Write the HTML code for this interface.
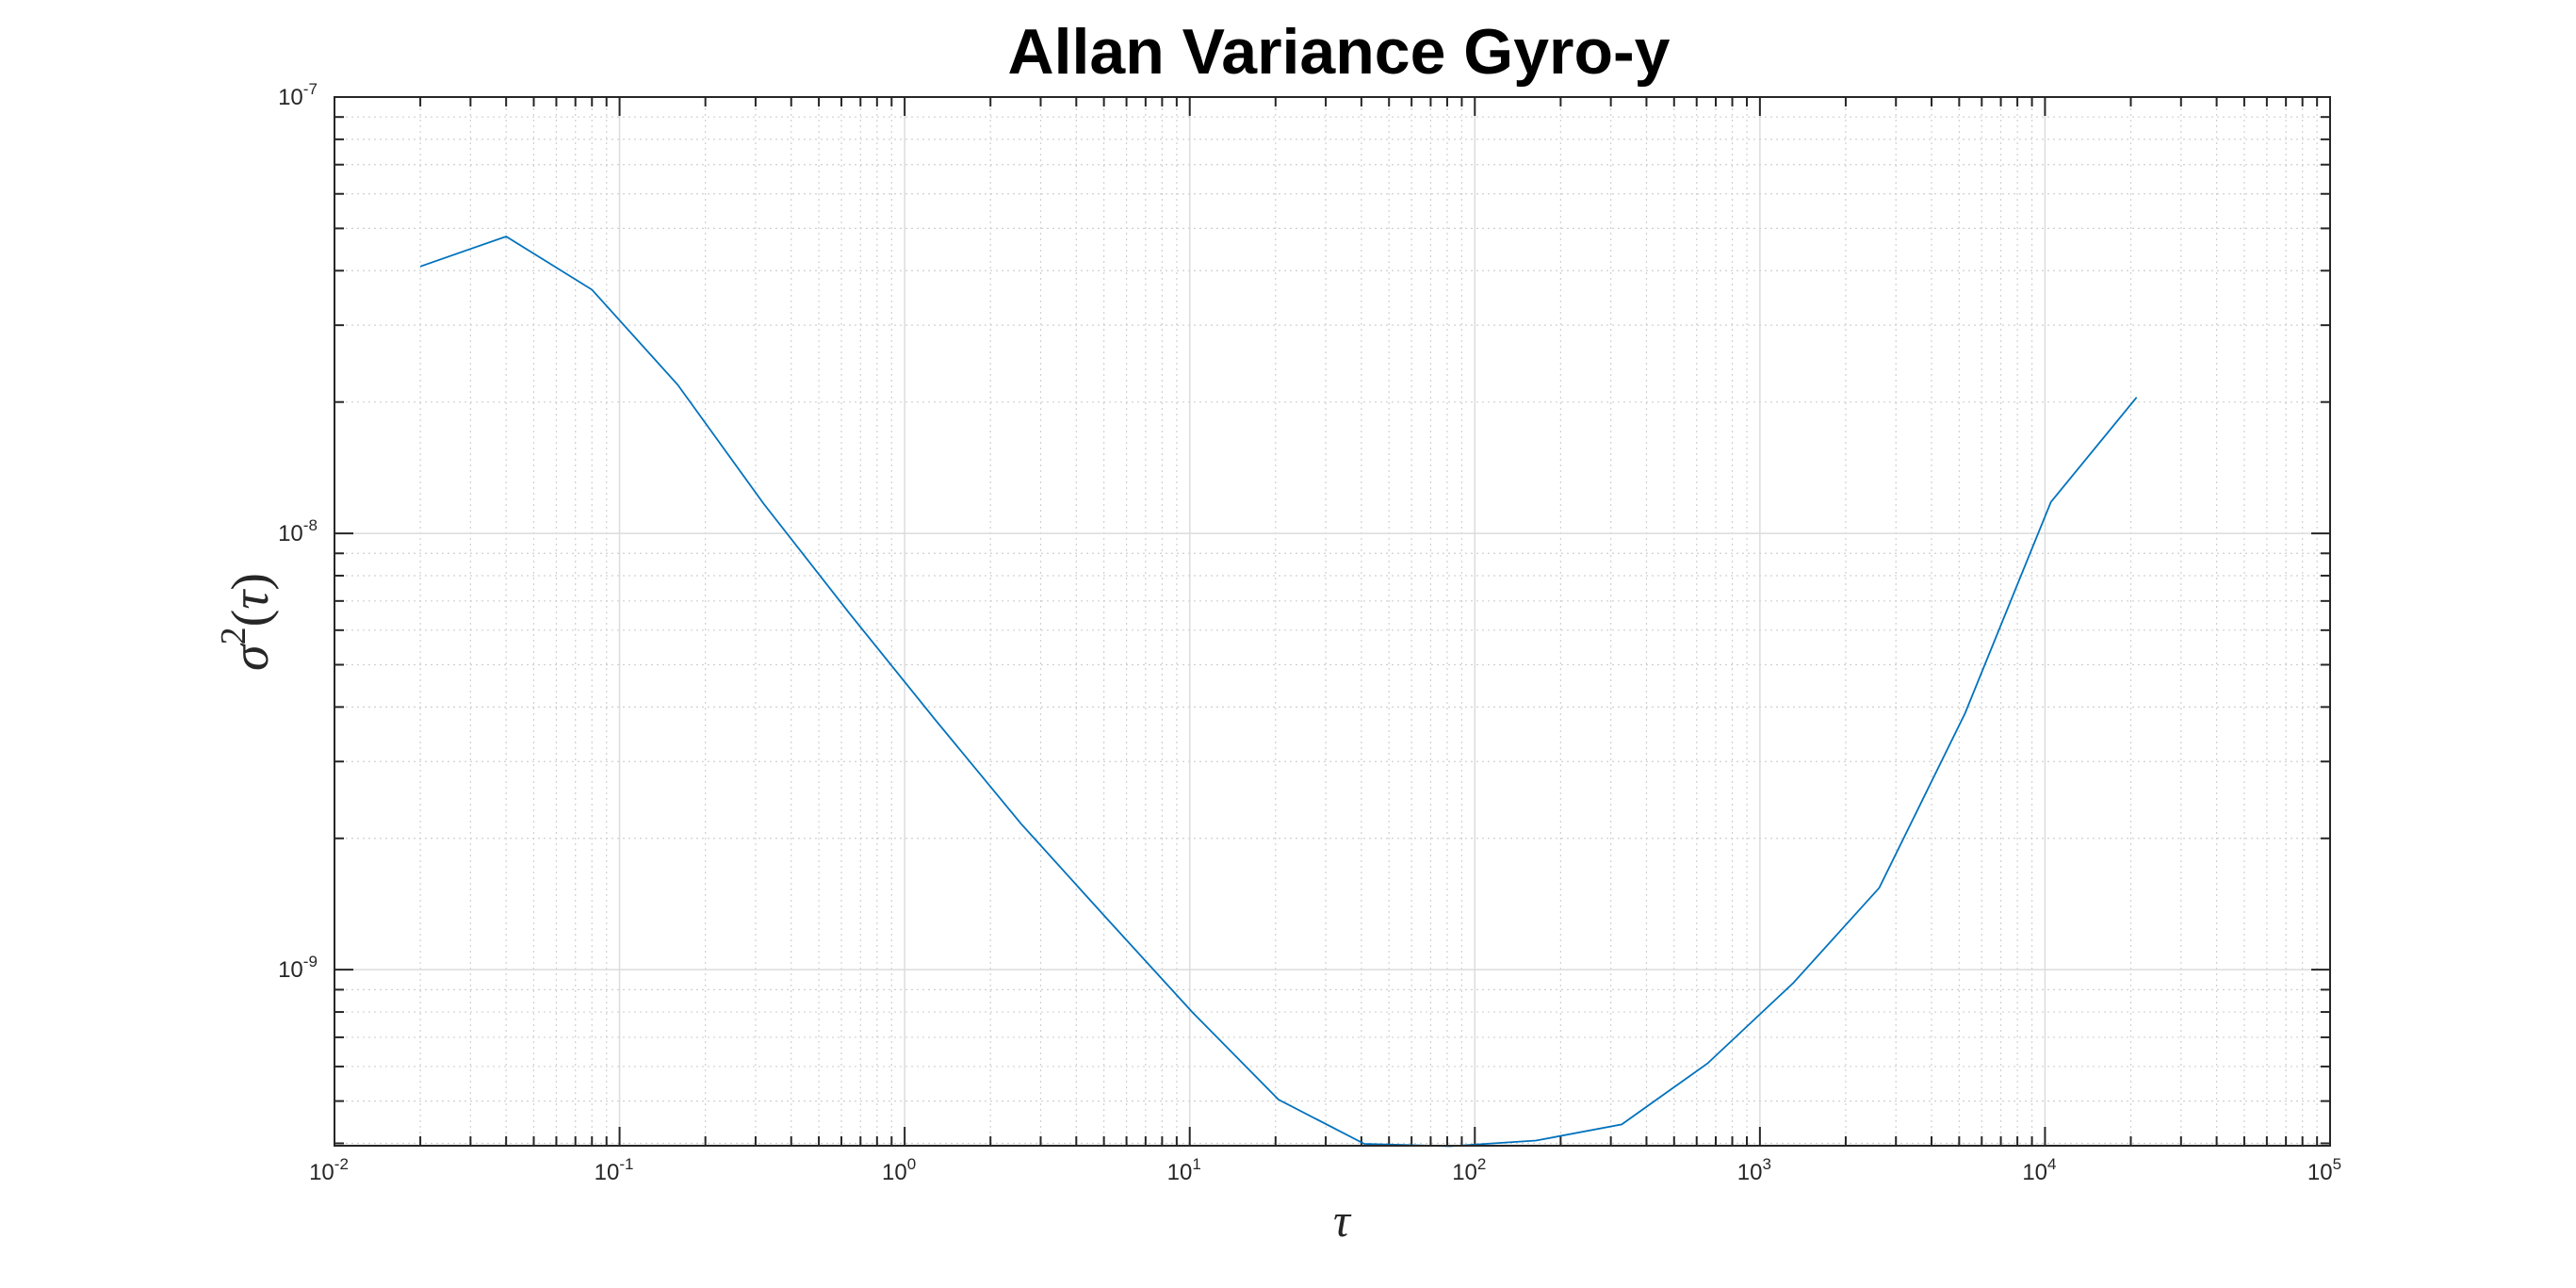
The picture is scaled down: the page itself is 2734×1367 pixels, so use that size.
<!DOCTYPE html>
<html><head><meta charset="utf-8"><style>
html,body{margin:0;padding:0;background:#fff;}
svg{display:block;font-family:"Liberation Sans",Arial,sans-serif;}
</style></head><body>
<svg id="chart" width="2734" height="1367" viewBox="0 0 2734 1367">
<rect width="2734" height="1367" fill="#fff"/>
<text x="1421" y="78" text-anchor="middle" font-size="68" font-weight="bold" fill="#000">Allan Variance Gyro-y</text>
<g id="grid"></g><g id="ticks"></g><g id="labels"></g>
<path id="series" fill="none" stroke="#0072BD" stroke-width="1.8"/>
<rect x="355" y="103" width="2118" height="1113" fill="none" stroke="#262626" stroke-width="2"/>
<text x="1424" y="1312" text-anchor="middle" font-family="'Liberation Serif',serif" font-style="italic" font-size="50" fill="#262626">τ</text>
<text transform="translate(284,660) rotate(-90)" text-anchor="middle" font-family="'Liberation Serif',serif" font-style="italic" font-size="56" fill="#262626">σ<tspan dy="-24" font-size="38" font-style="normal">2</tspan><tspan dy="24" font-style="normal">(</tspan>τ<tspan font-style="normal">)</tspan></text>
</svg>
<script>
const tau = [0.02,0.04,0.08,0.16,0.32,0.64,1.28,2.56,5.12,10.24,20.48,40.96,81.92,163.84,327.68,655.36,1310.72,2621.44,5242.88,10485.76,20971.52];
const avar = [4.09e-8,4.79e-8,3.62e-8,2.19e-8,1.17e-8,6.56e-9,3.74e-9,2.16e-9,1.31e-9,7.98e-10,5.04e-10,3.99e-10,3.94e-10,4.06e-10,4.42e-10,6.10e-10,9.33e-10,1.54e-9,3.87e-9,1.18e-8,2.05e-8];
const xExps = [-2,-1,0,1,2,3,4,5];
const yExps = [-9,-8,-7];
const X0=355,X1=2473,Y0=103,Y1=1216;
const xmin=-2,xmax=5,ymin=Math.log10(3.95e-10),ymax=-7;
const sx=v=>X0+(Math.log10(v)-xmin)/(xmax-xmin)*(X1-X0);
const sy=v=>Y1-(Math.log10(v)-ymin)/(ymax-ymin)*(Y1-Y0);
const NS="http://www.w3.org/2000/svg";
function mk(tag,attrs,parent){const e=document.createElementNS(NS,tag);for(const k in attrs)e.setAttribute(k,attrs[k]);document.getElementById(parent).appendChild(e);return e;}
for(let e=xmin;e<xmax;e++){for(let m=1;m<10;m++){const v=m*Math.pow(10,e);const x=sx(v);
 if(m===1){if(e>xmin){const g=mk('line',{x1:x,x2:x,y1:Y0,y2:Y1,stroke:'#dcdcdc','stroke-width':1.5},'grid');}}
 else{const g=mk('line',{x1:x,x2:x,y1:Y0,y2:Y1,stroke:'#d0d0d0','stroke-width':1.2,'stroke-dasharray':'2 4'},'grid');}
 const L=m===1?20:10;
 const t1=mk('line',{x1:x,x2:x,y1:Y1,y2:Y1-L,stroke:'#262626','stroke-width':2},'ticks');
 const t2=mk('line',{x1:x,x2:x,y1:Y0,y2:Y0+L,stroke:'#262626','stroke-width':2},'ticks');}}
xExps.forEach(e=>{const x=sx(Math.pow(10,e));const t=mk('text',{x:x-6,y:1252,'text-anchor':'middle','font-size':24,fill:'#262626'},'labels');
 
 t.innerHTML='10<tspan dy="-11" font-size="17">'+e+'</tspan>';});
for(let e=-10;e<-7;e++){for(let m=1;m<10;m++){const v=m*Math.pow(10,e);const lv=Math.log10(v);if(lv<ymin-1e-9||lv>ymax+1e-9)continue;const y=sy(v);
 if(m===1){const g=mk('line',{x1:X0,x2:X1,y1:y,y2:y,stroke:'#dcdcdc','stroke-width':1.5},'grid');}
 else{const g=mk('line',{x1:X0,x2:X1,y1:y,y2:y,stroke:'#d0d0d0','stroke-width':1.2,'stroke-dasharray':'2 4'},'grid');}
 const L=m===1?20:10;
 const t1=mk('line',{x1:X0,x2:X0+L,y1:y,y2:y,stroke:'#262626','stroke-width':2},'ticks');
 const t2=mk('line',{x1:X1,x2:X1-L,y1:y,y2:y,stroke:'#262626','stroke-width':2},'ticks');}}
yExps.forEach(e=>{const y=sy(Math.pow(10,e));const t=mk('text',{x:316,y:y+8,'text-anchor':'middle','font-size':24,fill:'#262626'},'labels');
 
 t.innerHTML='10<tspan dy="-11" font-size="17">'+e+'</tspan>';});
document.getElementById('series').setAttribute('d',tau.map((t,i)=>(i?'L':'M')+sx(t).toFixed(1)+','+sy(avar[i]).toFixed(1)).join(' '));
</script>
</body></html>
